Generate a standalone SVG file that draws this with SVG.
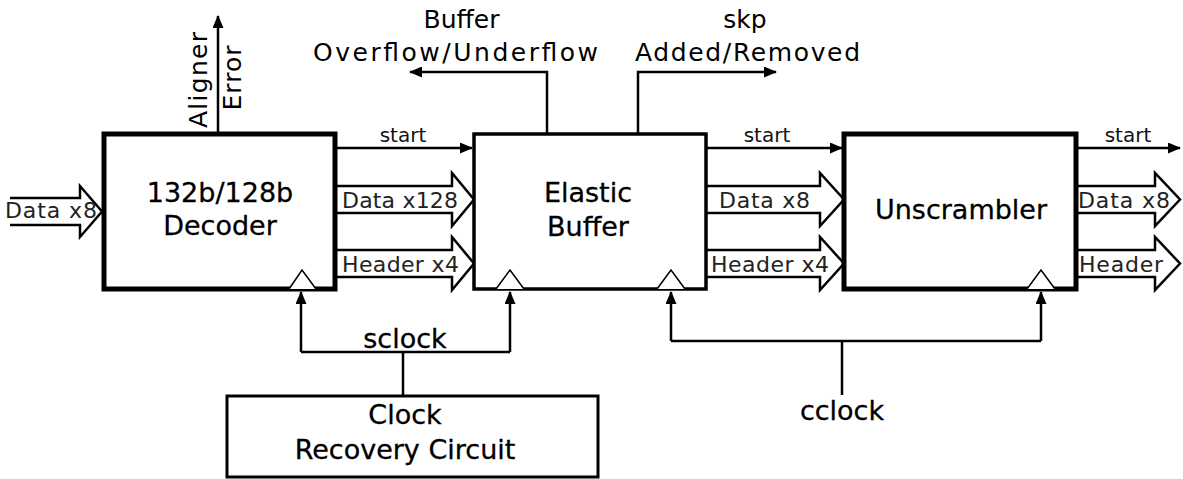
<svg xmlns="http://www.w3.org/2000/svg" width="1183" height="479" viewBox="0 0 1183 479">
<style>
.box{fill:#fff;stroke:#000;stroke-linejoin:miter}
.ln{fill:none;stroke:#000;stroke-width:2.5}
.fat{fill:#fff;stroke:#000;stroke-width:2.5;stroke-linejoin:miter}
.tri{fill:#fff;stroke:#000;stroke-width:1.5}
.big{font-family:"DejaVu Sans","Liberation Sans",sans-serif;font-size:27px;fill:#000;stroke:#000;stroke-width:0.3;text-anchor:middle}
.top{font-family:"DejaVu Sans","Liberation Sans",sans-serif;font-size:25px;fill:#000;text-anchor:middle}
.sm{font-family:"DejaVu Sans","Liberation Sans",sans-serif;font-size:22px;fill:#222}
.st{font-family:"DejaVu Sans","Liberation Sans",sans-serif;font-size:20px;fill:#111;text-anchor:middle}
</style>
<defs>
<marker id="ah" markerUnits="userSpaceOnUse" markerWidth="13" markerHeight="11" refX="12" refY="5.5" orient="auto">
<path d="M0,0 L13,5.5 L0,11 z" fill="#000"/>
</marker>
</defs>
<g id="connectors">
<path class="ln" d="M335,148 H472" marker-end="url(#ah)"/>
<path class="ln" d="M706,148 H842" marker-end="url(#ah)"/>
<path class="ln" d="M1076,148 H1180" marker-end="url(#ah)"/>
<path class="fat" d="M10,198 H80 V186 L102,211.5 L80,237 V225 H10"/>
<path class="fat" d="M335,186 H452 V173 L474,199.5 L452,226 V213 H335"/>
<path class="fat" d="M335,250 H452 V237 L474,263.5 L452,290 V277 H335"/>
<path class="fat" d="M706,186 H820 V173 L844,199.5 L820,226 V213 H706"/>
<path class="fat" d="M706,250 H820 V237 L844,263.5 L820,290 V277 H706"/>
<path class="fat" d="M1076,186 H1155 V173 L1180,199.5 L1155,226 V213 H1076"/>
<path class="fat" d="M1076,250 H1155 V237 L1180,263.5 L1155,290 V277 H1076"/>
<path class="ln" d="M218,134 V16" marker-end="url(#ah)"/>
<path class="ln" d="M547,134 V72 H410" marker-end="url(#ah)"/>
<path class="ln" d="M638,134 V72 H776" marker-end="url(#ah)"/>
<path class="ln" d="M403,396 V352"/>
<path class="ln" d="M301,352 V292" marker-end="url(#ah)"/>
<path class="ln" d="M510,352 V292" marker-end="url(#ah)"/>
<path class="ln" d="M301,352 H510"/>
<path class="ln" d="M842,395 V341"/>
<path class="ln" d="M671,341 H1041"/>
<path class="ln" d="M671,341 V292" marker-end="url(#ah)"/>
<path class="ln" d="M1041,341 V292" marker-end="url(#ah)"/>
<text class="sm" x="5" y="218" textLength="92" lengthAdjust="spacing">Data x8</text>
<text class="st" x="403" y="142">start</text>
<text class="sm" x="342" y="208" textLength="116" lengthAdjust="spacing">Data x128</text>
<text class="sm" x="342" y="272" textLength="117" lengthAdjust="spacing">Header x4</text>
<text class="st" x="767" y="142">start</text>
<text class="sm" x="719" y="208" textLength="91" lengthAdjust="spacing">Data x8</text>
<text class="sm" x="711" y="272" textLength="118" lengthAdjust="spacing">Header x4</text>
<text class="st" x="1128" y="142">start</text>
<text class="sm" x="1078" y="208" textLength="92" lengthAdjust="spacing">Data x8</text>
<text class="sm" x="1079" y="272" textLength="84" lengthAdjust="spacing">Header</text>
<text class="top" transform="translate(207,80) rotate(-90)" textLength="96" lengthAdjust="spacing">Aligner</text>
<text class="top" transform="translate(241,78) rotate(-90)" textLength="65" lengthAdjust="spacing">Error</text>
<text class="top" x="461.5" y="28">Buffer</text>
<text class="top" x="455.5" y="61" textLength="285" lengthAdjust="spacing">Overflow/Underflow</text>
<text class="top" x="745" y="28">skp</text>
<text class="top" x="747.5" y="61" textLength="225" lengthAdjust="spacing">Added/Removed</text>
<text class="big" x="405" y="348">sclock</text>
<text class="big" x="842" y="420">cclock</text>
</g>
<g id="decoder">
<rect class="box" x="104" y="134" width="231" height="155" stroke-width="5"/>
<polyline class="tri" points="289,289 302,270 316,289"/>
<text class="big" x="220" y="202">132b/128b</text>
<text class="big" x="220" y="235">Decoder</text>
</g>
<g id="elastic-buffer">
<rect class="box" x="474" y="134" width="232" height="155" stroke-width="3.5"/>
<polyline class="tri" points="496,289 510,270 524,289"/>
<polyline class="tri" points="657,289 671,270 685,289"/>
<text class="big" x="588" y="202">Elastic</text>
<text class="big" x="588" y="236">Buffer</text>
</g>
<g id="unscrambler">
<rect class="box" x="844" y="134" width="232" height="155" stroke-width="5"/>
<polyline class="tri" points="1027,289 1041,270 1055,289"/>
<text class="big" x="961" y="219">Unscrambler</text>
</g>
<g id="clock-recovery">
<rect class="box" x="227" y="396" width="371" height="81" stroke-width="3"/>
<text class="big" x="405" y="424">Clock</text>
<text class="big" x="405" y="459">Recovery Circuit</text>
</g>
</svg>
